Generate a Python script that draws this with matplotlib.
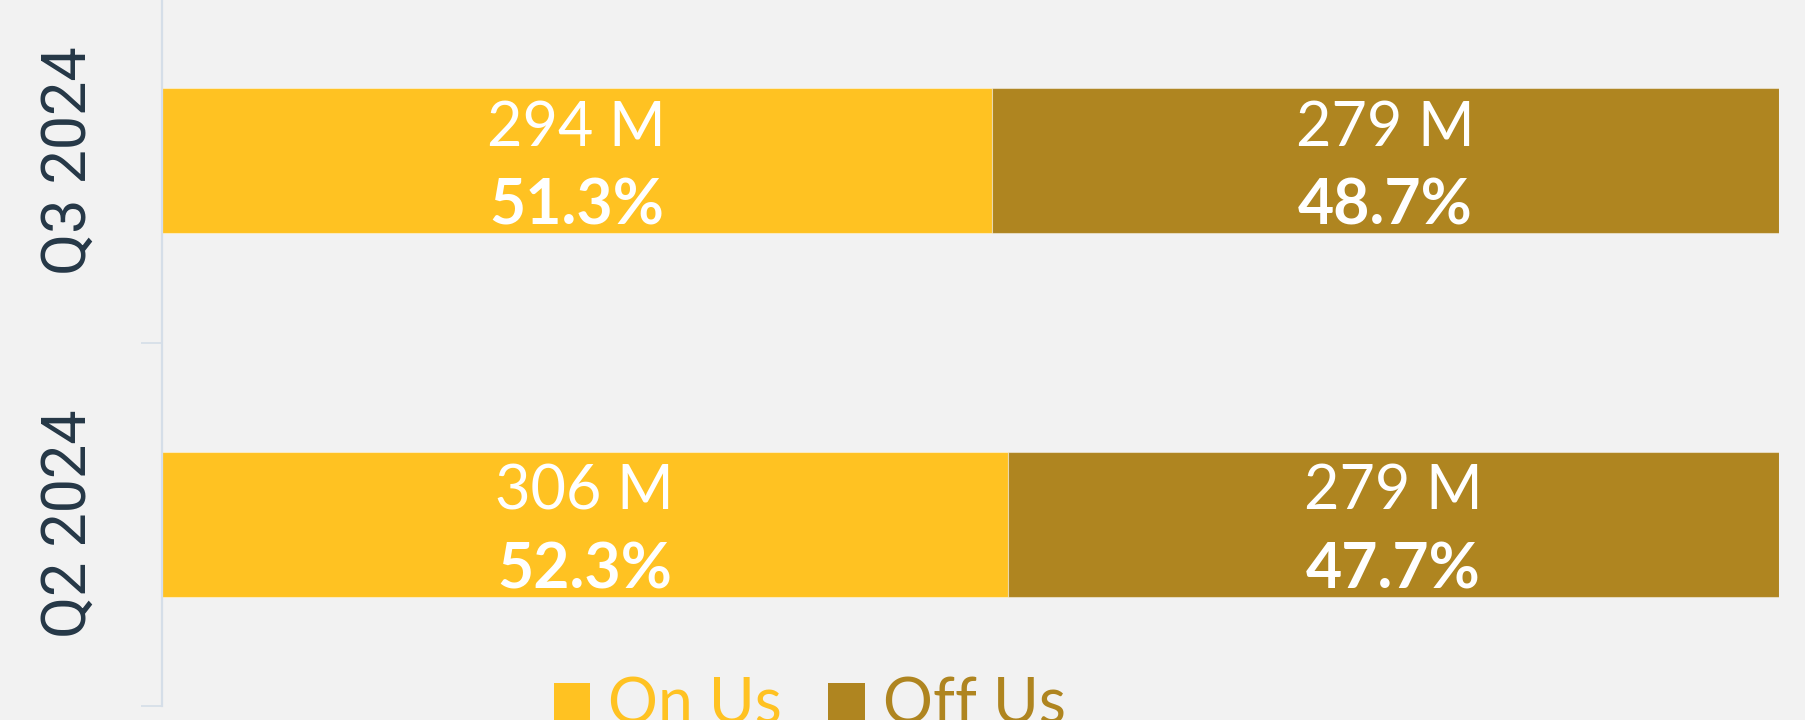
import matplotlib
matplotlib.use("Agg")
import matplotlib.pyplot as plt
from matplotlib.patches import Patch

# ---- data ----
categories = ["Q2 2024", "Q3 2024"]
series_names = ["On Us", "Off Us"]
on_us_pct = [52.3, 51.3]
off_us_pct = [47.7, 48.7]
on_us_vol = ["306 M", "294 M"]
off_us_vol = ["279 M", "279 M"]

# ---- style ----
BG = "#f2f2f2"
YELLOW = "#ffc222"
BROWN = "#af8520"
DARK = "#253746"
SPINE = "#d5dee8"
DPI = 100
W, H = 1806, 720

fig = plt.figure(figsize=(W / DPI, H / DPI), dpi=DPI, facecolor=BG)
left_px, right_px, bottom_px, top_px = 162, 1779, 706, -21
ax = fig.add_axes([left_px / W, (H - bottom_px) / H,
                   (right_px - left_px) / W, (bottom_px - top_px) / H])
ax.set_facecolor(BG)

y = list(range(len(categories)))
bh = 0.4
ax.barh(y, on_us_pct, height=bh, color=YELLOW,
        edgecolor=(1, 1, 1, 0.45), linewidth=0.8)
ax.barh(y, off_us_pct, left=on_us_pct, height=bh, color=BROWN,
        edgecolor=(1, 1, 1, 0.45), linewidth=0.8)

ax.set_xlim(0, 100)
ax.set_ylim(-0.5, len(categories) - 0.5)

for sp in ["top", "right", "bottom"]:
    ax.spines[sp].set_visible(False)
ax.spines["left"].set_color(SPINE)
ax.spines["left"].set_linewidth(1.6)

ax.set_xticks([])
ax.set_yticks(y)
ax.set_yticklabels(categories, rotation=90, va="center", ha="right",
                   fontsize=44, color=DARK, family="Roboto", fontweight="normal")
ax.tick_params(axis="y", which="major", length=0, pad=46)
ax.set_yticks([i - 0.5 for i in y], minor=True)
ax.tick_params(axis="y", which="minor", length=15, width=1.2, color=SPINE)

# labels in bars
for i in y:
    segs = [(on_us_pct[i] / 2, on_us_vol[i], on_us_pct[i]),
            (on_us_pct[i] + off_us_pct[i] / 2, off_us_vol[i], off_us_pct[i])]
    for xc, vol, pct in segs:
        ax.annotate(vol, xy=(xc, i), xytext=(0, 15), textcoords="offset pixels",
                    ha="center", va="baseline", fontsize=44, color="white",
                    family="Lato", fontweight="normal")
        ax.annotate(f"{pct:.1f}%", xy=(xc, i), xytext=(0, -64),
                    textcoords="offset pixels", ha="center", va="baseline",
                    fontsize=45, color="white", family="Lato", fontweight="bold")

handles = [Patch(facecolor=YELLOW, edgecolor="none"),
           Patch(facecolor=BROWN, edgecolor="none")]
leg = fig.legend(handles, series_names, loc="upper left",
                 bbox_to_anchor=(554 / W, 1 - 677 / H), ncol=2, frameon=False,
                 prop={"family": "Lato", "weight": "normal", "size": 45},
                 handlelength=0.58, handleheight=0.58, handletextpad=0.29,
                 columnspacing=0.74, borderpad=0, borderaxespad=0)
for t, c in zip(leg.get_texts(), [YELLOW, BROWN]):
    t.set_color(c)

fig.savefig("out.png", dpi=DPI, facecolor=BG)
